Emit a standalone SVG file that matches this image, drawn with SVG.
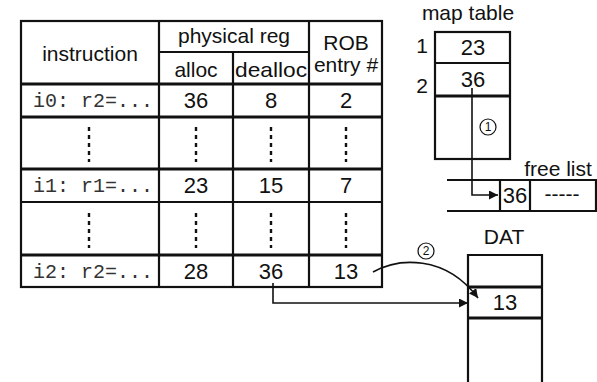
<svg xmlns="http://www.w3.org/2000/svg" width="597" height="382" viewBox="0 0 597 382">
<style>
.t{font-family:"Liberation Sans",Arial,sans-serif;font-size:21px;fill:#111;text-anchor:middle}
.n{font-size:22px}
.m{font-family:"Liberation Mono","Courier New",monospace;font-size:20px;fill:#333}
.ln{stroke:#111;stroke-width:2.2;fill:none}
.thk{stroke:#111;stroke-width:2.8;fill:none}
.dots{stroke:#111;stroke-width:2.4;stroke-dasharray:4 4}
.ar{stroke:#111;stroke-width:1.6;fill:none}
.c{fill:#fff;stroke:#111;stroke-width:1.2}
.cn{font-family:"Liberation Sans",Arial,sans-serif;font-size:12px;fill:#111;text-anchor:middle}
</style>
<defs>
<marker id="ah" viewBox="0 0 10 10" refX="10" refY="5" markerWidth="9" markerHeight="9" markerUnits="userSpaceOnUse" orient="auto">
<path d="M0,0 L10,5 L0,10 z" fill="#111"/>
</marker>
</defs>
<rect width="597" height="382" fill="#fff"/>

<g id="table">
<rect x="21" y="21" width="361" height="266" class="ln"/>
<line x1="159" y1="21" x2="159" y2="287" class="ln"/>
<line x1="233" y1="52" x2="233" y2="287" class="ln"/>
<line x1="309" y1="21" x2="309" y2="287" class="ln"/>
<line x1="159" y1="52" x2="309" y2="52" class="ln"/>
<line x1="21" y1="84" x2="382" y2="84" class="thk"/>
<line x1="21" y1="117" x2="382" y2="117" class="thk"/>
<line x1="21" y1="169" x2="382" y2="169" class="thk"/>
<line x1="21" y1="202" x2="382" y2="202" class="ln"/>
<line x1="21" y1="255" x2="382" y2="255" class="thk"/>
<text class="t" x="90" y="61">instruction</text>
<text class="t" x="234" y="43">physical reg</text>
<text class="t" x="196" y="77">alloc</text>
<text class="t" x="271" y="77" textLength="72" lengthAdjust="spacingAndGlyphs">dealloc</text>
<text class="t" x="346" y="50">ROB</text>
<text class="t" x="346" y="72">entry #</text>
<text class="m" x="33" y="107">i0: r2=...</text>
<text class="t n" x="196" y="108">36</text>
<text class="t n" x="271" y="108">8</text>
<text class="t n" x="346" y="108">2</text>
<line x1="89" y1="127" x2="89" y2="162" class="dots"/>
<line x1="196" y1="127" x2="196" y2="162" class="dots"/>
<line x1="271" y1="127" x2="271" y2="162" class="dots"/>
<line x1="346" y1="127" x2="346" y2="162" class="dots"/>
<text class="m" x="33" y="192">i1: r1=...</text>
<text class="t n" x="196" y="193">23</text>
<text class="t n" x="271" y="193">15</text>
<text class="t n" x="346" y="193">7</text>
<line x1="89" y1="213" x2="89" y2="248" class="dots"/>
<line x1="196" y1="213" x2="196" y2="248" class="dots"/>
<line x1="271" y1="213" x2="271" y2="248" class="dots"/>
<line x1="346" y1="213" x2="346" y2="248" class="dots"/>
<text class="m" x="33" y="278">i2: r2=...</text>
<text class="t n" x="196" y="279">28</text>
<text class="t n" x="271" y="279">36</text>
<text class="t n" x="346" y="279">13</text>
</g>

<g id="map-table">
<text class="t" x="468" y="20">map table</text>
<rect x="435" y="32" width="75" height="127" class="ln"/>
<line x1="435" y1="63" x2="510" y2="63" class="ln"/>
<line x1="435" y1="96" x2="510" y2="96" class="thk"/>
<text class="t" x="422" y="53">1</text>
<text class="t" x="422" y="93">2</text>
<text class="t n" x="473" y="55">23</text>
<text class="t n" x="473" y="87">36</text>
</g>

<g id="free-list">
<text class="t" x="558" y="176">free list</text>
<line x1="447" y1="180" x2="597" y2="180" class="ln"/>
<line x1="447" y1="211" x2="597" y2="211" class="ln"/>
<line x1="500" y1="180" x2="500" y2="211" class="ln"/>
<line x1="530" y1="180" x2="530" y2="211" class="ln"/>
<line x1="596" y1="180" x2="596" y2="211" class="ln"/>
<text class="t n" x="515" y="203">36</text>
<text class="t" x="562" y="201">-----</text>
</g>

<g id="dat">
<text class="t" x="504" y="244">DAT</text>
<polyline points="468,384 468,255 542,255 542,384" class="ln"/>
<line x1="468" y1="287" x2="542" y2="287" class="thk"/>
<line x1="468" y1="318" x2="542" y2="318" class="thk"/>
<text class="t n" x="505" y="310">13</text>
</g>

<g id="connectors">
<polyline points="472,88 472,195 498,195" class="ar" marker-end="url(#ah)"/>
<circle cx="488" cy="127" r="8" class="c"/>
<text class="cn" x="488" y="131">1</text>
<polyline points="273,283 273,303 468,303" class="ar" marker-end="url(#ah)"/>
<path d="M373,272 C398,258 445,254 478,298" class="ar" marker-end="url(#ah)"/>
<circle cx="426" cy="251" r="8" class="c"/>
<text class="cn" x="426" y="255">2</text>
</g>
</svg>
